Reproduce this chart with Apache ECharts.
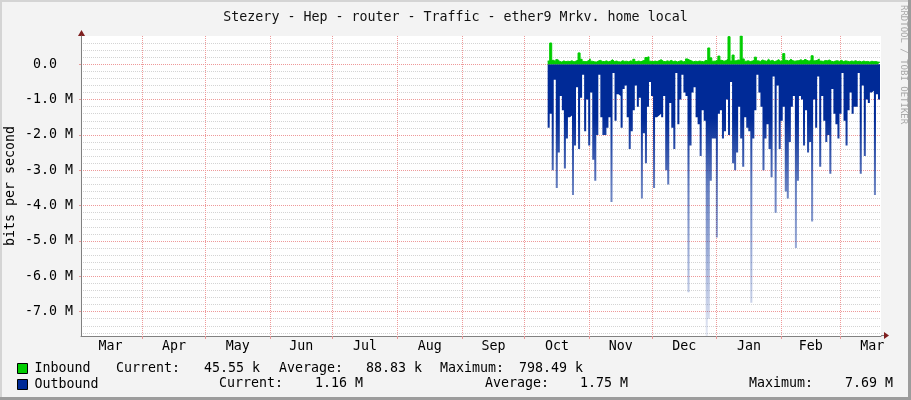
<!DOCTYPE html>
<html>
<head>
<meta charset="utf-8">
<title>Stezery - Hep - router - Traffic - ether9</title>
<script src="https://cdn.jsdelivr.net/npm/echarts@6/dist/echarts.min.js"></script>
<style>
  html, body { margin: 0; padding: 0; background: #f3f3f3; }
  #chart { width: 911px; height: 400px; }
</style>
</head>
<body>
<div id="chart"></div>
<script>
// x axis: first day of each month (grid lines), labels sit mid month
const monthStarts = ['2024-03-01', '2024-04-01', '2024-05-01', '2024-06-01', '2024-07-01', '2024-08-01',
  '2024-09-01', '2024-10-01', '2024-11-01', '2024-12-01', '2025-01-01', '2025-02-01', '2025-03-01', '2025-04-01'];
const monthNames = ['Jan', 'Feb', 'Mar', 'Apr', 'May', 'Jun', 'Jul', 'Aug', 'Sep', 'Oct', 'Nov', 'Dec'];
const xStart = '2024-03-02T10:00:00Z';
const xEnd = '2025-03-20T17:00:00Z';

// y axis (bits per second)
const yTicks = [0, -1e6, -2e6, -3e6, -4e6, -5e6, -6e6, -7e6];
const yMin = -7.69e6;
const yMax = 0.7985e6;

// samples, first one on Oct 12, last one on Mar 20 (about one per day)
const dataStart = '2024-10-12T00:00:00Z';
const dataEnd = '2025-03-20T05:30:00Z';

// inbound, kbit/s
const inbound = [
  90, 600, 110, 70, 130, 80, 60, 95, 70, 85, 75, 100, 65, 90, 110, 320, 140, 80, 70, 95,
  150, 85, 70, 60, 90, 110, 80, 75, 95, 70, 85, 130, 75, 90, 70, 65, 100, 80, 85, 70, 95,
  80, 140, 75, 90, 70, 95, 110, 190, 210, 85, 70, 90, 75, 100, 130, 85, 70, 95, 80, 110,
  75, 90, 65, 85, 100, 70, 80, 150, 120, 95, 70, 85, 75, 90, 80, 70, 110, 95, 460, 180, 85,
  90, 120, 230, 110, 85, 100, 140, 780, 90, 260, 95, 120, 110, 798.49, 150, 85, 100, 75, 90, 110,
  200, 95, 80, 120, 100, 85, 140, 90, 110, 75, 95, 130, 85, 100, 300, 110, 90, 140, 100, 85, 95,
  100, 130, 90, 140, 110, 85, 120, 240, 95, 110, 150, 90, 80, 105, 95, 120, 85, 70, 90, 100,
  80, 110, 75, 95, 85, 70, 90, 80, 100, 75, 85, 65, 90, 70, 80, 60, 85, 70, 75, 60, 55, 45.55
];

// outbound, Mbit/s (drawn below zero)
const outbound = [
  1.8, 1.4, 3.0, 0.44, 3.5, 2.5, 0.9, 1.3, 2.95, 2.1, 1.5, 1.45, 3.7, 2.3, 0.65, 2.4, 0.95, 0.3, 1.9, 1.0,
  2.3, 0.8, 2.7, 3.3, 2.0, 0.3, 1.5, 2.0, 2.0, 1.8, 1.5, 3.9, 0.25, 1.6, 0.85, 0.9, 1.8, 0.7, 0.6, 1.5, 2.4,
  1.9, 1.3, 0.6, 1.2, 0.95, 3.8, 1.95, 2.8, 1.2, 0.5, 0.9, 3.5, 1.5, 1.45, 1.4, 1.5, 0.9, 3.0, 3.4, 1.1,
  1.8, 2.4, 0.25, 1.7, 1.0, 0.3, 0.8, 0.9, 6.45, 2.3, 0.8, 0.65, 1.5, 1.7, 2.6, 1.3, 1.6, 7.69, 7.2, 3.3, 2.1,
  2.1, 4.9, 1.4, 1.3, 2.1, 1.9, 1.0, 2.0, 0.5, 2.8, 3.0, 2.5, 1.2, 2.1, 2.9, 1.5, 1.8, 1.9, 6.75, 2.1,
  1.3, 0.3, 0.8, 1.2, 3.0, 2.1, 1.7, 2.4, 3.2, 0.35, 4.2, 0.6, 2.4, 1.6, 1.2, 3.6, 3.8, 2.2, 1.2, 0.9, 5.2,
  3.3, 0.9, 1.0, 2.3, 1.3, 2.5, 2.2, 4.45, 1.0, 1.8, 0.35, 2.9, 0.9, 1.6, 2.2, 2.0, 3.1, 0.7, 1.4, 1.7,
  2.1, 1.4, 0.25, 1.6, 2.3, 1.3, 0.8, 1.4, 1.2, 1.2, 0.25, 3.1, 0.6, 2.6, 1.0, 1.1, 0.8, 0.75, 3.7, 0.85, 1.0, 1.16
];

// legend statistics
const inStats = ['45.55 k', '88.83 k', '798.49 k'];
const outStats = ['1.16 M', '1.75 M', '7.69 M'];

const FONT = '"DejaVu Sans Mono", monospace';
const FS = 13.3;
const t = s => new Date(s).getTime();

const tickVals = monthStarts.slice(1, 13).map(t);
const labelVals = monthStarts.slice(0, 13).map((s, i) => (t(s) + t(monthStarts[i + 1])) / 2);

const yMinor = [];
for (let v = -7.6e6; v <= 0.8e6 + 1; v += 0.2e6) {
  const r = Math.round(v / 1e5) * 1e5;
  if (r % 1e6 !== 0) yMinor.push(r);
}

const t0 = t(dataStart);
const step = (t(dataEnd) - t0) / (outbound.length - 1);
const inData = inbound.map((v, i) => [t0 + i * step, v * 1e3]);
const outData = outbound.map((v, i) => [t0 + i * step, -v * 1e6]);

const chart = echarts.init(document.getElementById('chart'));

function statText(txt, x, y) {
  return {
    type: 'text', x: x, y: y, silent: true,
    style: { text: txt, font: FS + 'px ' + FONT, fill: '#000', verticalAlign: 'middle' }
  };
}

const legendBase = {
  left: 17, icon: 'rect', itemWidth: 10, itemHeight: 10,
  padding: 0, selectedMode: false,
  itemStyle: { borderColor: '#000', borderWidth: 1 },
  textStyle: { fontFamily: FONT, fontSize: FS, color: '#000', padding: [0, 0, 0, 2] }
};

const option = {
  backgroundColor: '#f3f3f3',
  animation: false,
  title: {
    text: 'Stezery - Hep - router - Traffic - ether9 Mrkv. home local',
    left: 'center',
    top: 6,
    textStyle: { fontFamily: FONT, fontSize: FS, fontWeight: 'normal', color: '#111' }
  },
  legend: [
    Object.assign({ data: ['Inbound'], top: 362 }, legendBase),
    Object.assign({ data: ['Outbound'], top: 378 }, legendBase)
  ],
  grid: {
    left: 81, right: 30, top: 36, bottom: 64,
    outerBoundsMode: 'none', containLabel: false,
    show: true, backgroundColor: '#fff', borderWidth: 0
  },
  xAxis: {
    type: 'value',
    min: t(xStart),
    max: t(xEnd),
    axisLine: { onZero: false, lineStyle: { color: '#808080' } },
    axisTick: { customValues: tickVals, length: 3, lineStyle: { color: '#e89898' } },
    axisLabel: {
      customValues: labelVals,
      formatter: v => monthNames[new Date(v).getUTCMonth()],
      fontFamily: FONT, fontSize: FS, color: '#000', margin: 4
    },
    splitLine: { show: true, lineStyle: { color: '#ee9999', type: [1, 1] } }
  },
  yAxis: [
    {
      type: 'value',
      min: yMin,
      max: yMax,
      name: 'bits per second',
      nameLocation: 'middle',
      nameGap: 64,
      nameMoveOverlap: false,
      nameTextStyle: { fontFamily: FONT, fontSize: FS, color: '#000' },
      axisLine: { show: true, lineStyle: { color: '#808080' } },
      axisTick: { show: true, customValues: yTicks, length: 2, lineStyle: { color: '#e89898' } },
      axisLabel: {
        customValues: yTicks,
        formatter: v => v === 0 ? '0.0  ' : (v / 1e6).toFixed(1) + ' M',
        fontFamily: FONT, fontSize: FS, color: '#000', margin: 8
      },
      splitLine: { show: true, lineStyle: { color: '#ee9999', type: [1, 1] } }
    },
    {
      type: 'value',
      min: yMin,
      max: yMax,
      position: 'left',
      axisLine: { show: false },
      axisLabel: { show: false },
      axisTick: { show: false, customValues: yMinor },
      splitLine: { show: true, lineStyle: { color: '#d4d4d4', type: [1, 1] } }
    }
  ],
  series: [
    {
      name: 'Outbound',
      type: 'line',
      step: 'end',
      symbol: 'none',
      data: outData,
      itemStyle: { color: '#002a97' },
      lineStyle: { width: 0 },
      areaStyle: {
        opacity: 1,
        color: {
          type: 'linear', x: 0, y: 64, x2: 0, y2: 336, global: true,
          colorStops: [
            { offset: 0, color: 'rgba(0,42,151,1)' },
            { offset: 0.2, color: 'rgba(0,42,151,1)' },
            { offset: 0.45, color: 'rgba(0,42,151,0.6)' },
            { offset: 1, color: 'rgba(0,42,151,0.1)' }
          ]
        }
      }
    },
    {
      name: 'Inbound',
      type: 'line',
      step: 'end',
      symbol: 'none',
      data: inData,
      itemStyle: { color: '#00cc00' },
      lineStyle: { width: 1, color: '#00cc00' },
      areaStyle: { color: '#00cc00', opacity: 1 }
    }
  ],
  graphic: [
    // frame
    { type: 'rect', shape: { x: 0, y: 0, width: 911, height: 2 }, style: { fill: '#d4d4d4' }, silent: true },
    { type: 'rect', shape: { x: 0, y: 0, width: 2, height: 400 }, style: { fill: '#d4d4d4' }, silent: true },
    { type: 'rect', shape: { x: 908, y: 0, width: 3, height: 400 }, style: { fill: '#9c9c9c' }, silent: true },
    { type: 'rect', shape: { x: 0, y: 397, width: 911, height: 3 }, style: { fill: '#9c9c9c' }, silent: true },
    // axis arrows
    { type: 'line', shape: { x1: 881, y1: 335.5, x2: 885, y2: 335.5 }, style: { stroke: '#808080' }, silent: true },
    { type: 'polygon', shape: { points: [[884, 332], [884, 339], [889, 335.5]] }, style: { fill: '#7f1f1f' }, silent: true },
    { type: 'line', shape: { x1: 81.5, y1: 36, x2: 81.5, y2: 31 }, style: { stroke: '#808080' }, silent: true },
    { type: 'polygon', shape: { points: [[78, 36], [85, 36], [81.5, 30]] }, style: { fill: '#7f1f1f' }, silent: true },
    // watermark
    {
      type: 'text', x: 903, y: 5, rotation: -Math.PI / 2, silent: true,
      style: { text: 'RRDTOOL / TOBI OETIKER', font: '9px ' + FONT, fill: '#a8a8a8', verticalAlign: 'middle' }
    },
    // legend statistics
    statText('Current:', 116, 368.5),
    statText(inStats[0], 204, 368.5),
    statText('Average:', 279, 368.5),
    statText(inStats[1], 366, 368.5),
    statText('Maximum:', 440, 368.5),
    statText(inStats[2], 519, 368.5),
    statText('Current:', 219, 384),
    statText(outStats[0], 315, 384),
    statText('Average:', 485, 384),
    statText(outStats[1], 580, 384),
    statText('Maximum:', 749, 384),
    statText(outStats[2], 845, 384)
  ]
};

chart.setOption(option);
</script>
</body>
</html>
